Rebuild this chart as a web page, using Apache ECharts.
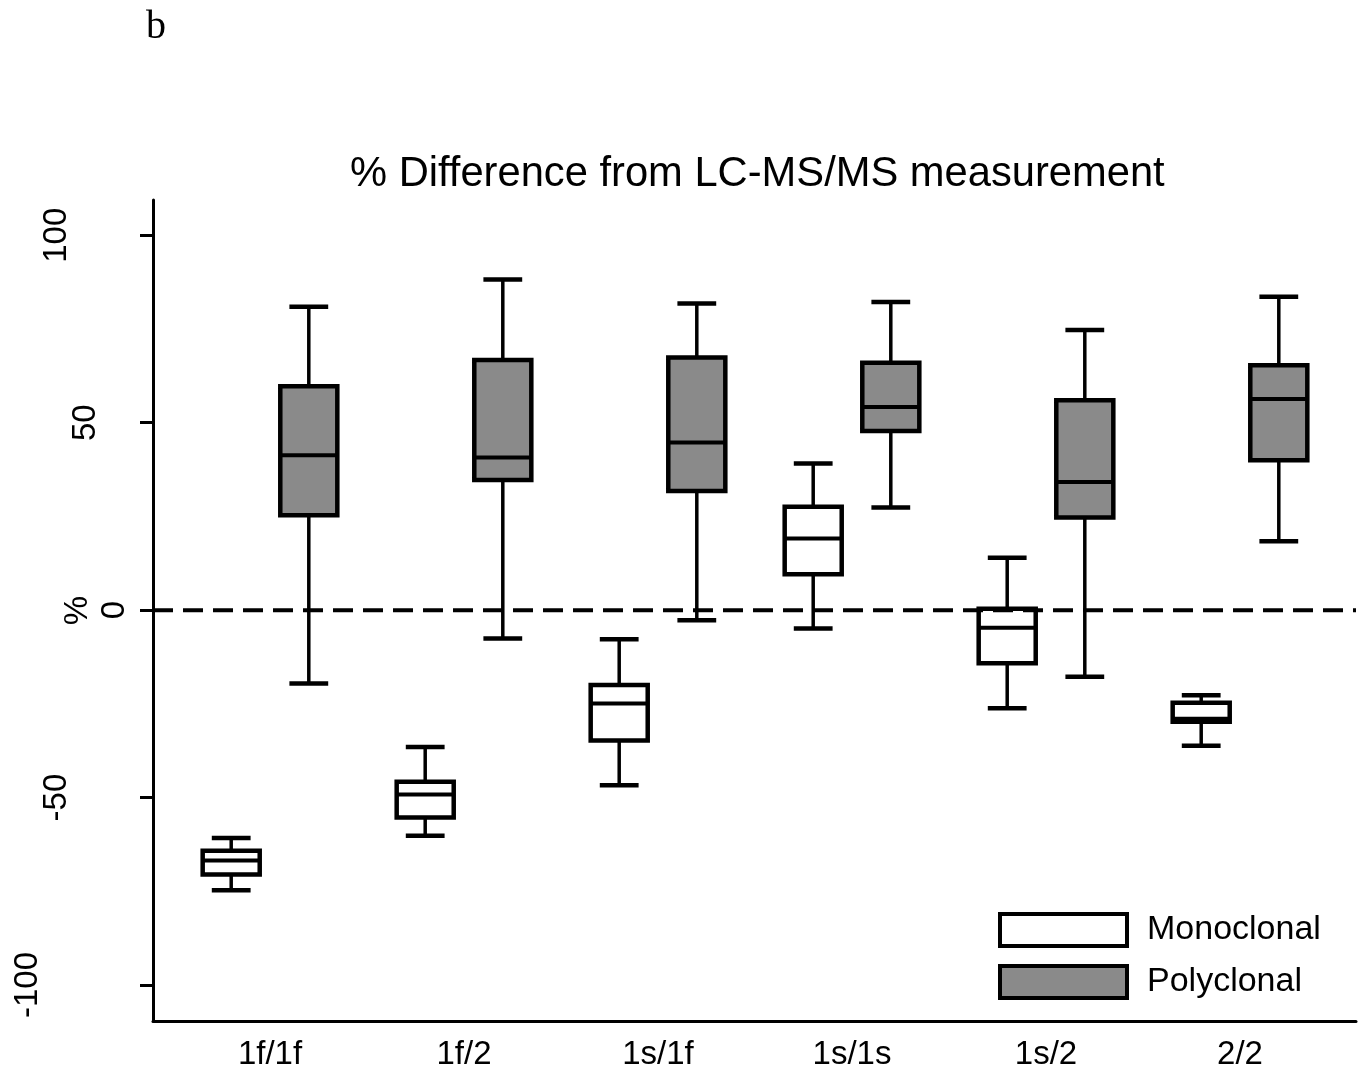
<!DOCTYPE html>
<html>
<head>
<meta charset="utf-8">
<script src="https://cdn.jsdelivr.net/npm/echarts@6/dist/echarts.min.js"></script>
<style>
  html, body { margin: 0; padding: 0; background: #fff; }
  #chart { width: 1369px; height: 1072px; }
</style>
</head>
<body>
<div id="chart"></div>
<script>
// categories on the x axis
const categories = ['1f/1f', '1f/2', '1s/1f', '1s/1s', '1s/2', '2/2'];
// each row: [lower whisker, Q1, median, Q3, upper whisker]
const monoclonal = [
  [-74.7, -70.5, -66.8, -64.2, -60.8],
  [-60.2, -55.3, -49.2, -45.8, -36.5],
  [-46.7, -34.8, -24.9, -20.0, -7.8],
  [-4.9, 9.6, 19.1, 27.6, 39.1],
  [-26.2, -14.2, -4.7, 0.4, 14.0],
  [-36.2, -29.8, -29.0, -24.7, -22.7]
];
const polyclonal = [
  [-19.6, 25.3, 41.3, 59.7, 80.9],
  [-7.6, 34.7, 40.7, 66.7, 88.2],
  [-2.7, 31.8, 44.7, 67.4, 81.8],
  [27.4, 47.8, 54.2, 66.0, 82.2],
  [-17.8, 24.7, 34.2, 56.0, 74.7],
  [18.4, 40.0, 56.3, 65.3, 83.6]
];
const yTicks = [-100, -50, 0, 50, 100];
const refLine = 0;

const FONT = "'Liberation Sans', Arial, sans-serif";
const GRAY = '#8a8a8a';
const yMin = -109.6, yMax = 109.4;

// labels are staggered by their length, as in the original
const labelRich = {};
[1, 2, 3, 4].forEach(function (n) {
  labelRich['n' + n] = {
    fontSize: 33, fontFamily: FONT, color: '#000',
    padding: [0, 0, (n - 1) * 29, 0]
  };
});

// box + whiskers for one group, side = -1 left / +1 right in the band
function boxRenderer(side, fill) {
  return function (params, api) {
    const cat = api.value(0);
    const bw = api.size([1, 0])[0];
    const cx = api.coord([cat, 0])[0] + side * bw * 0.2;
    const half = bw * 0.147, capHalf = bw * 0.1;
    const y = [1, 2, 3, 4, 5].map(function (d) { return api.coord([cat, api.value(d)])[1]; });
    const line = function (x1, y1, x2, y2, w) {
      return { type: 'line', shape: { x1: x1, y1: y1, x2: x2, y2: y2 }, style: { stroke: '#000', lineWidth: w } };
    };
    return {
      type: 'group',
      children: [
        line(cx, y[0], cx, y[1], 3.5),
        line(cx, y[3], cx, y[4], 3.5),
        line(cx - capHalf, y[0], cx + capHalf, y[0], 4.5),
        line(cx - capHalf, y[4], cx + capHalf, y[4], 4.5),
        { type: 'rect', shape: { x: cx - half, y: y[3], width: half * 2, height: y[1] - y[3] },
          style: { fill: fill, stroke: '#000', lineWidth: 4.5 } },
        line(cx - half, y[2], cx + half, y[2], 4)
      ]
    };
  };
}

const chart = echarts.init(document.getElementById('chart'));
chart.setOption({
  animation: false,
  backgroundColor: '#fff',
  title: [
    { text: '% Difference from LC-MS/MS measurement', left: 350, top: 154, padding: 0,
      textStyle: { fontFamily: FONT, fontSize: 41.7, fontWeight: 'normal', color: '#000' } },
    { text: 'b', left: 146, top: 7, padding: 0,
      textStyle: { fontFamily: "'Liberation Serif', serif", fontSize: 40, fontWeight: 'normal', color: '#000' } }
  ],
  legend: {
    orient: 'vertical', left: 998, top: 912, padding: 0,
    itemWidth: 127, itemHeight: 32, itemGap: 16,
    textStyle: { fontFamily: FONT, fontSize: 34, color: '#000', padding: [0, 0, 0, 15] },
    data: [
      { name: 'Monoclonal', icon: 'rect', itemStyle: { color: '#fff', borderColor: '#000', borderWidth: 4 } },
      { name: 'Polyclonal', icon: 'rect', itemStyle: { color: GRAY, borderColor: '#000', borderWidth: 4 } }
    ]
  },
  grid: [
    { left: 173, width: 1164, top: 200, bottom: 51, containLabel: false, outerBoundsMode: 'none' },
    { left: 153, right: 13, top: 200, bottom: 51, containLabel: false, outerBoundsMode: 'none' }
  ],
  xAxis: [
    { type: 'category', gridIndex: 0, data: categories,
      axisLine: { show: false, onZero: false }, axisTick: { show: false },
      axisLabel: { margin: 17, fontSize: 33, fontFamily: FONT, color: '#000' } },
    { type: 'value', gridIndex: 1, min: 0, max: 1,
      axisLine: { show: true, onZero: false, lineStyle: { color: '#000', width: 3 } },
      axisTick: { show: false }, axisLabel: { show: false }, splitLine: { show: false } }
  ],
  yAxis: [
    { type: 'value', gridIndex: 0, min: yMin, max: yMax, show: false },
    { type: 'value', gridIndex: 1, min: yMin, max: yMax,
      name: '%', nameLocation: 'middle', nameGap: 59, nameRotate: 90, nameMoveOverlap: false,
      nameTextStyle: { fontFamily: FONT, fontSize: 33, color: '#000' },
      axisLine: { show: true, onZero: false, lineStyle: { color: '#000', width: 3 } },
      axisTick: { show: true, length: 13, customValues: yTicks, lineStyle: { color: '#000', width: 3 } },
      axisLabel: { rotate: 90, margin: 22, customValues: yTicks,
        formatter: function (v) { return '{n' + String(v).length + '|' + v + '}'; },
        rich: labelRich },
      splitLine: { show: false } }
  ],
  series: [
    { type: 'line', xAxisIndex: 1, yAxisIndex: 1, silent: true, symbol: 'none',
      data: [[0, refLine], [1, refLine]],
      lineStyle: { color: '#000', width: 4, type: [20, 10] } },
    { type: 'custom', name: 'Monoclonal', xAxisIndex: 0, yAxisIndex: 0, silent: true,
      renderItem: boxRenderer(-1, '#fff'), encode: { x: 0, y: [1, 2, 3, 4, 5] },
      itemStyle: { color: '#fff' },
      data: categories.map(function (c, i) { return [i].concat(monoclonal[i]); }) },
    { type: 'custom', name: 'Polyclonal', xAxisIndex: 0, yAxisIndex: 0, silent: true,
      renderItem: boxRenderer(1, GRAY), encode: { x: 0, y: [1, 2, 3, 4, 5] },
      itemStyle: { color: GRAY },
      data: categories.map(function (c, i) { return [i].concat(polyclonal[i]); }) }
  ]
});
</script>
</body>
</html>
